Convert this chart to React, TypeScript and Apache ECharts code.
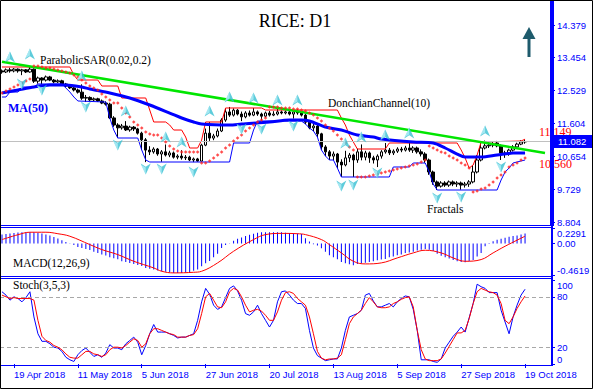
import React, { useEffect, useRef } from 'react';
import * as echarts from 'echarts';

// ---------- categories (trading days) ----------
const monthDays: [string, number[]][] = [
  ['Apr', [16, 17, 18, 19, 20, 23, 24, 25, 26, 27, 30]],
  ['May', [1, 2, 3, 4, 7, 8, 9, 10, 11, 14, 15, 16, 17, 18, 21, 22, 23, 24, 25, 29, 30, 31]],
  ['Jun', [1, 4, 5, 6, 7, 8, 11, 12, 13, 14, 15, 18, 19, 20, 21, 22, 25, 26, 27, 28, 29]],
  ['Jul', [2, 3, 5, 6, 9, 10, 11, 12, 13, 16, 17, 18, 19, 20, 23, 24, 25, 26, 27, 30, 31]],
  ['Aug', [1, 2, 3, 6, 7, 8, 9, 10, 13, 14, 15, 16, 17, 20, 21, 22, 23, 24, 27, 28, 29, 30, 31]],
  ['Sep', [4, 5, 6, 7, 10, 11, 12, 13, 14, 17, 18, 19, 20, 21, 24, 25, 26, 27, 28]],
  ['Oct', [1, 2, 3, 4, 5, 8, 9, 10, 11, 12, 15, 16, 17, 18, 19]],
];
const padCategories = ['p1', 'p2', 'p3', 'p4', 'p5', 'p6'];
const tickLabels = ['19 Apr 2018', '11 May 2018', '5 Jun 2018', '27 Jun 2018', '20 Jul 2018', '13 Aug 2018', '5 Sep 2018', '27 Sep 2018', '19 Oct 2018'];

// ---------- price axis ----------
const priceTicks = [8.804, 9.729, 10.654, 11.604, 12.529, 13.454, 14.379];
const macdTicks = [-0.4619, 0, 0.2291];
const stochTicks = [0, 20, 80, 100];

// ---------- OHLC: [open, close, low, high] ----------
const ohlc: number[][] = [
  [13.08, 13.05, 13.0, 13.12], [13.05, 13.11, 13.02, 13.15], [13.11, 13.08, 13.03, 13.17], [13.08, 13.13, 13.04, 13.16],
  [13.13, 13.08, 13.03, 13.15], [13.08, 13.11, 12.96, 13.14], [13.11, 13.05, 13.02, 13.13], [13.05, 13.13, 13.03, 13.19],
  [13.13, 12.79, 12.74, 13.15], [12.79, 12.88, 12.72, 12.92], [12.88, 12.82, 12.7, 12.9], [12.82, 12.91, 12.78, 12.95],
  [12.91, 12.82, 12.79, 12.94], [12.82, 12.77, 12.73, 12.85], [12.77, 12.8, 12.74, 12.84], [12.8, 12.71, 12.69, 12.83],
  [12.71, 12.65, 12.62, 12.74], [12.65, 12.6, 12.57, 12.69], [12.6, 12.54, 12.5, 12.64], [12.54, 12.48, 12.44, 12.58],
  [12.48, 12.31, 12.26, 12.7], [12.31, 12.33, 12.2, 12.4], [12.33, 12.26, 12.23, 12.36], [12.26, 12.29, 12.22, 12.33],
  [12.29, 12.23, 12.2, 12.32], [12.23, 12.17, 12.14, 12.27], [12.17, 12.14, 12.1, 12.22], [12.14, 11.75, 11.72, 12.18],
  [11.75, 11.55, 11.5, 11.8], [11.55, 11.47, 11.18, 11.6], [11.47, 11.52, 11.42, 11.58], [11.52, 11.41, 11.38, 11.66],
  [11.41, 11.49, 11.36, 11.53], [11.49, 11.44, 11.38, 11.52], [11.44, 11.32, 11.28, 11.47], [11.32, 11.13, 10.84, 11.36],
  [11.13, 10.84, 10.5, 11.18], [10.84, 10.79, 10.7, 10.95], [10.79, 10.87, 10.74, 10.92], [10.87, 10.73, 10.68, 10.9],
  [10.73, 10.79, 10.51, 10.84], [10.79, 10.7, 10.66, 11.0], [10.7, 10.76, 10.64, 10.82], [10.76, 10.64, 10.6, 10.8],
  [10.64, 10.67, 10.58, 10.72], [10.67, 10.62, 10.57, 10.84], [10.62, 10.64, 10.56, 10.7], [10.64, 10.56, 10.53, 10.68],
  [10.56, 10.59, 10.5, 10.63], [10.59, 10.53, 10.51, 10.62], [10.53, 10.98, 10.52, 11.02], [10.98, 11.32, 10.95, 11.45],
  [11.32, 11.18, 11.1, 11.63], [11.18, 11.24, 11.12, 11.3], [11.24, 11.38, 11.2, 11.45], [11.38, 11.69, 11.35, 11.74],
  [11.69, 11.92, 11.64, 12.03], [11.92, 11.83, 11.78, 12.06], [11.83, 11.97, 11.79, 12.02], [11.97, 11.86, 11.82, 12.0],
  [11.86, 11.78, 11.66, 11.93], [11.78, 11.89, 11.74, 11.94], [11.89, 11.83, 11.79, 11.96], [11.83, 11.92, 11.8, 12.03],
  [11.92, 11.86, 11.81, 11.96], [11.86, 11.8, 11.68, 11.9], [11.8, 11.89, 11.76, 11.93], [11.89, 11.83, 11.79, 11.95],
  [11.83, 11.86, 11.8, 11.94], [11.86, 11.92, 11.82, 12.02], [11.92, 11.89, 11.85, 11.96], [11.89, 11.92, 11.85, 11.96],
  [11.92, 11.86, 11.82, 11.95], [11.86, 11.92, 11.73, 11.96], [11.92, 11.89, 11.84, 12.0], [11.89, 11.83, 11.79, 11.93],
  [11.83, 11.63, 11.58, 11.86], [11.63, 11.47, 11.43, 11.68], [11.47, 11.52, 11.38, 11.58], [11.52, 11.3, 11.21, 11.55],
  [11.3, 10.93, 10.85, 11.33], [10.93, 10.79, 10.67, 10.98], [10.79, 10.67, 10.56, 10.84], [10.67, 10.73, 10.56, 10.8],
  [10.73, 10.5, 10.33, 10.76], [10.5, 10.42, 10.08, 10.58], [10.42, 10.62, 10.38, 10.82], [10.62, 10.7, 10.5, 10.76],
  [10.7, 10.56, 10.08, 10.74], [10.56, 10.79, 10.48, 10.88], [10.79, 10.64, 10.55, 11.0], [10.64, 10.76, 10.55, 10.82],
  [10.76, 10.62, 10.48, 10.8], [10.62, 10.56, 10.46, 10.68], [10.56, 10.67, 10.36, 10.72], [10.67, 10.79, 10.6, 10.84],
  [10.79, 10.84, 10.74, 11.04], [10.84, 10.76, 10.7, 10.9], [10.76, 10.81, 10.7, 10.86], [10.81, 10.87, 10.76, 10.92],
  [10.87, 10.84, 10.78, 10.93], [10.84, 10.9, 10.8, 10.96], [10.9, 10.84, 10.79, 11.08], [10.84, 10.9, 10.76, 10.95],
  [10.9, 10.79, 10.74, 10.94], [10.79, 10.73, 10.66, 10.86], [10.73, 10.56, 10.48, 10.78], [10.56, 10.22, 10.14, 10.6],
  [10.22, 9.94, 9.86, 10.26], [9.94, 9.82, 9.71, 9.98], [9.82, 9.91, 9.78, 9.96], [9.91, 9.85, 9.8, 9.96],
  [9.85, 9.94, 9.8, 9.98], [9.94, 9.88, 9.82, 9.98], [9.88, 9.91, 9.8, 9.96], [9.91, 9.85, 9.72, 9.95],
  [9.85, 9.88, 9.78, 9.94], [9.88, 9.94, 9.8, 9.99], [9.94, 10.22, 9.9, 10.4], [10.22, 10.56, 10.18, 10.7],
  [10.56, 10.9, 10.52, 11.08], [10.9, 10.96, 10.86, 11.11], [10.96, 10.98, 10.9, 11.06], [10.98, 11.01, 10.92, 11.08],
  [11.04, 10.96, 10.92, 11.1], [10.96, 10.76, 10.56, 11.0], [10.76, 10.73, 10.62, 10.82], [10.73, 10.84, 10.68, 10.88],
  [10.84, 10.93, 10.8, 10.98], [10.93, 11.01, 10.88, 11.05], [11.01, 11.07, 10.98, 11.12], [11.07, 11.082, 11.02, 11.14],
];

// ---------- indicators ----------
const ma50: number[][] = [
  [0, 12.455], [4, 12.54], [8, 12.625], [12, 12.681], [16, 12.681], [20, 12.625], [22, 12.568], [27, 12.455],
  [32, 12.314], [37, 12.116], [42, 11.889], [45, 11.748], [48, 11.635], [50, 11.578], [57, 11.55], [60, 11.578],
  [67, 11.635], [72, 11.691], [75, 11.691], [77, 11.663], [81, 11.493], [85, 11.408], [89, 11.267], [93, 11.21],
  [95, 11.153], [103, 11.069], [108, 11.041], [111, 10.899], [114, 10.729], [116, 10.645], [120, 10.645],
  [124, 10.701], [128, 10.758], [131, 10.758],
];
const donchianUpper: number[][] = [
  [0, 13.191], [17, 13.191], [18, 12.964], [19, 12.823], [24, 12.823], [25, 12.653], [29, 12.653], [30, 12.314],
  [36, 12.314], [37, 11.974], [38, 11.635], [41, 11.635], [42, 11.55], [43, 11.408], [45, 11.408], [46, 11.21],
  [47, 10.899], [49, 10.899], [50, 11.125], [51, 11.635], [55, 11.635], [56, 12.031], [65, 12.031], [66, 11.974],
  [84, 11.974], [85, 11.748], [86, 11.55], [87, 11.267], [88, 11.069], [89, 10.871], [96, 10.871], [97, 11.041],
  [114, 11.041], [115, 10.843], [116, 10.616], [117, 10.333], [118, 10.418], [119, 10.701], [120, 11.069],
  [130, 11.097], [131, 11.149],
];
const donchianLower: number[][] = [
  [0, 12.342], [1, 12.342], [2, 12.483], [4, 12.483], [5, 12.625], [8, 12.625], [9, 12.71], [15, 12.71],
  [16, 12.596], [17, 12.483], [18, 12.342], [19, 12.229], [26, 12.2], [27, 11.748], [28, 11.408], [29, 11.182],
  [34, 11.182], [35, 10.843], [36, 10.56], [37, 10.503], [57, 10.503], [58, 11.041], [62, 11.041], [63, 11.408],
  [64, 11.663], [75, 11.663], [76, 11.578], [77, 11.465], [78, 11.38], [79, 11.21], [80, 10.843], [81, 10.673],
  [82, 10.56], [83, 10.56], [84, 10.333], [85, 10.079], [97, 10.079], [98, 10.362], [102, 10.362], [103, 10.475],
  [106, 10.475], [107, 10.22], [108, 9.881], [109, 9.711], [124, 9.711], [125, 9.994], [126, 10.22], [127, 10.333],
  [128, 10.475], [131, 10.56],
];
const trendLine: number[][] = [[0, 13.34], [136, 10.76]];
const sar: number[] = [
  12.455, 12.512, 12.568, 12.625, 12.681, 12.738, 12.794, 12.851,
  13.219, 13.219, 13.191, 13.162, 13.162, 13.134, 13.106, 13.077, 13.049, 13.021,
  12.964, 12.908, 12.823, 12.738, 12.653, 12.596, 12.54, 12.427, 12.342, 12.257,
  12.172, 12.172, 12.031, 11.889, 11.776, 11.635, 11.55, 11.465, 11.352, 11.295,
  11.267, 11.267, 11.182, 11.069, 10.956, 10.871, 10.814, 10.786, 10.786, 10.786, 10.786, 10.786,
  10.475, 10.475, 10.532, 10.616, 10.701, 10.786, 10.899, 10.984, 11.097, 11.182, 11.267, 11.38, 11.465, 11.55, 11.635, 11.691, 11.748,
  12.059, 12.059, 12.059, 12.031, 12.031, 12.031, 12.002, 12.002, 11.974, 11.946, 11.889, 11.833, 11.748, 11.663, 11.55, 11.465, 11.38, 11.267, 11.153, 11.041, 10.928, 10.843,
  10.079, 10.079, 10.079, 10.107, 10.136, 10.164, 10.192, 10.22, 10.249, 10.277, 10.305, 10.333, 10.362, 10.39, 10.418, 10.447, 10.503, 10.56,
  10.956, 10.899, 10.843, 10.786, 10.758, 10.673, 10.616, 10.56, 10.475, 10.418, 10.333,
  9.654, 9.683, 9.739, 9.768, 9.853, 9.938, 10.051, 10.136, 10.22, 10.362, 10.418, 10.475, 10.56, 10.616,
];
const fractalsUp: number[][] = [
  [2, 13.474], [7, 13.558], [20, 12.936], [31, 11.946], [41, 11.21], [45, 11.069], [52, 11.946], [57, 12.342],
  [63, 12.314], [69, 12.257], [74, 12.257], [86, 11.041], [90, 11.21], [96, 11.267], [102, 11.324], [121, 11.38],
];
const fractalsDown: number[][] = [
  [5, 12.71], [10, 12.54], [21, 12.059], [29, 10.984], [36, 10.305], [40, 10.305], [48, 10.22], [60, 11.437],
  [65, 11.437], [73, 11.522], [85, 9.824], [88, 9.853], [94, 10.192], [109, 9.485], [115, 9.513], [125, 10.362],
];
const macdHist: number[] = [
  0.132, 0.14, 0.15, 0.157, 0.162, 0.167, 0.167, 0.167, 0.165, 0.16,
  0.15, 0.135, 0.118, 0.098, 0.075, 0.05, 0.025, 0.005, -0.02, -0.05,
  -0.064, -0.078, -0.095, -0.12, -0.137, -0.162, -0.175, -0.2, -0.215, -0.23,
  -0.26, -0.27, -0.285, -0.3, -0.315, -0.33, -0.36, -0.37, -0.382, -0.395,
  -0.405, -0.415, -0.422, -0.431, -0.431, -0.431, -0.425, -0.42, -0.4, -0.38,
  -0.333, -0.29, -0.255, -0.2, -0.15, -0.064, -0.02, 0.005, 0.04, 0.07,
  0.09, 0.11, 0.13, 0.145, 0.16, 0.167, 0.167, 0.167, 0.167, 0.167,
  0.165, 0.16, 0.157, 0.152, 0.147, 0.14, 0.08, 0.03, -0.01, -0.03,
  -0.07, -0.12, -0.17, -0.2, -0.23, -0.27, -0.29, -0.305, -0.32, -0.3,
  -0.29, -0.28, -0.27, -0.26, -0.245, -0.235, -0.225, -0.2, -0.19, -0.17,
  -0.16, -0.14, -0.13, -0.12, -0.1, -0.09, -0.08, -0.09, -0.11, -0.15,
  -0.18, -0.2, -0.22, -0.24, -0.26, -0.27, -0.275, -0.26, -0.24, -0.19,
  -0.14, -0.04, 0.01, 0.035, 0.055, 0.07, 0.085, 0.1, 0.11, 0.12,
  0.135, 0.15,
];
const macdSignal: number[][] = [
  [0, 0.059], [4, 0.13], [7, 0.167], [11, 0.167], [14, 0.145], [17, 0.108], [22, -0.015], [25, -0.088],
  [29, -0.162], [33, -0.26], [38, -0.358], [40, -0.407], [43, -0.431], [48, -0.422], [50, -0.407], [54, -0.284],
  [58, -0.113], [63, 0.059], [66, 0.132], [70, 0.15], [74, 0.145], [76, 0.132], [80, 0.059], [82, -0.015],
  [85, -0.137], [88, -0.26], [91, -0.299], [95, -0.284], [99, -0.211], [103, -0.137], [106, -0.098], [110, -0.137],
  [113, -0.211], [116, -0.26], [120, -0.235], [123, -0.137], [126, -0.039], [131, 0.108],
];
const stochK: number[] = [
  86, 82, 76, 80, 78, 74, 79, 86, 56, 36,
  27, 27, 24, 20, 19, 15, 8, 5, 3, 11,
  16, 19, 14, 9, 11, 8, 13, 23, 19, 19,
  17, 24, 28, 32, 26, 11, 22, 36, 47, 38,
  38, 38, 36, 34, 31, 32, 32, 34, 36, 52,
  74, 90, 83, 70, 65, 68, 79, 90, 93, 87,
  76, 60, 58, 62, 70, 60, 52, 44, 52, 74,
  86, 87, 82, 76, 72, 72, 66, 40, 19, 10,
  7, 4, 5, 6, 6, 19, 40, 56, 58, 60,
  64, 82, 84, 75, 68, 68, 70, 72, 68, 74,
  78, 81, 80, 65, 40, 5, 5, 5, 3, 2,
  6, 19, 26, 33, 38, 44, 38, 55, 72, 95,
  92, 90, 85, 85, 85, 64, 50, 36, 56, 70,
  82, 89,
];
const stochD: number[] = [
  82, 80, 78, 79, 78, 78, 78, 78, 76, 52,
  33, 28, 26, 22, 20, 17, 12, 8, 7, 7,
  11, 15, 15, 12, 11, 9, 11, 17, 20, 20,
  19, 22, 26, 30, 28, 20, 24, 36, 42, 42,
  40, 38, 36, 35, 32, 32, 32, 34, 35, 42,
  60, 80, 84, 76, 68, 67, 74, 86, 90, 88,
  80, 70, 62, 64, 65, 63, 58, 52, 52, 62,
  76, 85, 86, 84, 78, 74, 70, 56, 36, 15,
  7, 5, 6, 6, 7, 11, 29, 48, 56, 60,
  64, 72, 79, 74, 68, 67, 67, 68, 72, 74,
  77, 79, 80, 68, 40, 17, 6, 4, 4, 4,
  6, 13, 21, 29, 37, 37, 40, 54, 72, 86,
  90, 88, 86, 85, 82, 72, 52, 48, 56, 66,
  74, 81,
];

const BLUE = '#0000ff';
const AXIS_FONT = 'Liberation Sans';
const SERIF = 'Liberation Serif';

const categories: string[] = [];
monthDays.forEach(([m, days]) => days.forEach((d) => categories.push(`${d} ${m} 2018`)));
padCategories.forEach((p) => categories.push(p));

const upFull = 'path://M5,0 L10,10 L5,7 L0,10 Z';
const upHalf = 'path://M5,0 L5,7 L0,10 Z';
const dnFull = 'path://M0,0 L5,3 L10,0 L5,10 Z';
const dnHalf = 'path://M0,0 L5,3 L5,10 Z';

function buildOption(): any {
  const grids = [
    { left: -1, width: 552, top: 1, height: 224 },
    { left: -1, width: 552, top: 228, height: 47 },
    { left: -1, width: 552, top: 280, height: 84 },
  ];
  const isTick = (_i: number, v: string) => tickLabels.indexOf(v) >= 0;
  const xAxes = grids.map((_, gi) => ({
    type: 'category',
    gridIndex: gi,
    data: categories,
    boundaryGap: true,
    axisLine: { show: false },
    axisTick: gi === 2 ? { show: true, interval: isTick, alignWithLabel: true, length: 4, lineStyle: { color: BLUE } } : { show: false },
    axisLabel: gi === 2
      ? { show: true, interval: isTick, align: 'left', margin: 5, color: BLUE, fontFamily: AXIS_FONT, fontSize: 9.5 }
      : { show: false },
    splitLine: { show: false },
  }));
  const yLabel = { color: BLUE, fontFamily: AXIS_FONT, fontSize: 9.5, margin: 6 };
  const yAxes = [
    {
      type: 'value', gridIndex: 0, position: 'right', min: 8.721, max: 15.058,
      splitLine: { show: false }, axisLine: { show: false },
      axisTick: { show: true, length: 4, customValues: priceTicks, lineStyle: { color: BLUE } },
      axisLabel: { ...yLabel, customValues: priceTicks, formatter: (v: number) => v.toFixed(3) },
    },
    {
      type: 'value', gridIndex: 1, position: 'right', min: macdTicks[0], max: macdTicks[2],
      splitLine: { show: false }, axisLine: { show: false },
      axisTick: { show: true, length: 4, customValues: macdTicks, lineStyle: { color: BLUE } },
      axisLabel: {
        ...yLabel, customValues: macdTicks,
        verticalAlignMinLabel: 'bottom', verticalAlignMaxLabel: 'top',
        formatter: (v: number) => (v === 0 ? '0.00' : v.toFixed(4)),
      },
    },
    {
      type: 'value', gridIndex: 2, position: 'right', min: 0, max: 100,
      splitLine: { show: false }, axisLine: { show: false },
      axisTick: { show: true, length: 4, customValues: stochTicks, lineStyle: { color: BLUE } },
      axisLabel: {
        ...yLabel, customValues: stochTicks,
        verticalAlignMinLabel: 'bottom', verticalAlignMaxLabel: 'top',
        formatter: (v: number) => String(v),
      },
    },
  ];

  const lastClose = ohlc[ohlc.length - 1][1];
  const upperLast = donchianUpper[donchianUpper.length - 1][1];
  const lowerLast = donchianLower[donchianLower.length - 1][1];

  const series: any[] = [
    {
      type: 'candlestick', xAxisIndex: 0, yAxisIndex: 0, data: ohlc, barWidth: 3, silent: true, z: 3,
      itemStyle: { color: '#ffffff', color0: '#000000', borderColor: '#000000', borderColor0: '#000000', borderWidth: 1 },
      markLine: {
        silent: true, symbol: 'none', animation: false,
        lineStyle: { color: '#c0c0c0', width: 1, type: 'solid' },
        label: {
          show: true, position: 'end', distance: 2, formatter: lastClose.toFixed(3),
          color: '#ffffff', backgroundColor: BLUE, padding: [2, 10, 1, 5], fontFamily: AXIS_FONT, fontSize: 9.5,
        },
        data: [{ yAxis: lastClose }],
      },
    },
    {
      type: 'line', xAxisIndex: 0, yAxisIndex: 0, data: donchianUpper, symbol: 'none', silent: true, z: 4,
      lineStyle: { color: '#ff0000', width: 1 },
      endLabel: {
        show: true, formatter: () => upperLast.toFixed(3), color: '#ff0000', fontFamily: SERIF, fontSize: 12,
        distance: 14, offset: [0, -7],
      },
    },
    {
      type: 'line', xAxisIndex: 0, yAxisIndex: 0, data: donchianLower, symbol: 'none', silent: true, z: 4,
      lineStyle: { color: BLUE, width: 1 },
      endLabel: {
        show: true, formatter: () => lowerLast.toFixed(3), color: '#ff0000', fontFamily: SERIF, fontSize: 12,
        distance: 14, offset: [0, 4],
      },
    },
    {
      type: 'line', xAxisIndex: 0, yAxisIndex: 0, data: ma50, symbol: 'none', silent: true, z: 5, smooth: 0.3,
      lineStyle: { color: BLUE, width: 3 },
    },
    {
      type: 'line', xAxisIndex: 0, yAxisIndex: 0, data: trendLine, symbol: 'none', silent: true, z: 6,
      lineStyle: { color: '#00e600', width: 2.5 },
    },
    {
      type: 'scatter', xAxisIndex: 0, yAxisIndex: 0, data: sar.map((v, i) => [i, v]), symbol: 'diamond', symbolSize: 3.5,
      silent: true, z: 7, itemStyle: { color: '#ff2020' },
    },
    {
      type: 'scatter', xAxisIndex: 0, yAxisIndex: 0, data: fractalsUp, symbol: upFull, symbolSize: [10, 11],
      silent: true, z: 8, itemStyle: { color: '#36bfd2' },
    },
    {
      type: 'scatter', xAxisIndex: 0, yAxisIndex: 0, data: fractalsUp, symbol: upHalf, symbolSize: [5, 10],
      symbolOffset: [-2.5, -0.5], silent: true, z: 9, itemStyle: { color: '#b4eef6' },
    },
    {
      type: 'scatter', xAxisIndex: 0, yAxisIndex: 0, data: fractalsDown, symbol: dnFull, symbolSize: [10, 11],
      silent: true, z: 8, itemStyle: { color: '#36bfd2' },
    },
    {
      type: 'scatter', xAxisIndex: 0, yAxisIndex: 0, data: fractalsDown, symbol: dnHalf, symbolSize: [5, 10],
      symbolOffset: [-2.5, 0.5], silent: true, z: 9, itemStyle: { color: '#b4eef6' },
    },
    {
      type: 'bar', xAxisIndex: 1, yAxisIndex: 1, data: macdHist, barWidth: 1, silent: true,
      itemStyle: { color: BLUE },
    },
    {
      type: 'line', xAxisIndex: 1, yAxisIndex: 1, data: macdSignal, symbol: 'none', silent: true, smooth: 0.4,
      lineStyle: { color: '#ff0000', width: 1 }, z: 4,
    },
    {
      type: 'line', xAxisIndex: 2, yAxisIndex: 2, data: stochK, symbol: 'none', silent: true, z: 4,
      lineStyle: { color: BLUE, width: 1 },
      markLine: {
        silent: true, symbol: 'none', animation: false, label: { show: false },
        lineStyle: { color: '#a8a8a8', width: 1, type: [4, 3] },
        data: [{ yAxis: 20 }, { yAxis: 80 }],
      },
    },
    {
      type: 'line', xAxisIndex: 2, yAxisIndex: 2, data: stochD, symbol: 'none', silent: true, z: 5,
      lineStyle: { color: '#ff0000', width: 1 },
    },
  ];

  const txt = (text: string, x: number, y: number, font: string, fill = '#000', align = 'left') => ({
    type: 'text', silent: true, z: 50,
    style: { text, x, y, font, fill, textAlign: align, textVerticalAlign: 'middle', align, verticalAlign: 'middle' },
  });
  const hline = (y: number) => ({
    type: 'line', silent: true, z: 90,
    shape: { x1: 0, y1: y, x2: 552, y2: y },
    style: { stroke: BLUE, lineWidth: 1 },
  });

  const graphic = [
    txt('RICE: D1', 295, 21, `18px "${SERIF}"`, '#000', 'center'),
    txt('ParabolicSAR(0.02,0.2)', 40, 60, `11.5px "${SERIF}"`),
    txt('MA(50)', 8, 108, `bold 12px "${SERIF}"`, BLUE),
    txt('DonchianChannel(10)', 328, 103, `11.5px "${SERIF}"`),
    txt('Fractals', 427, 209, `11.5px "${SERIF}"`),
    txt('MACD(12,26,9)', 13, 263, `11.5px "${SERIF}"`),
    txt('Stoch(3,5,3)', 13, 285, `11.5px "${SERIF}"`),
    {
      type: 'polygon', silent: true, z: 50,
      shape: { points: [[529, 27], [535.5, 39], [522.5, 39]] },
      style: { fill: '#1e5b6c' },
    },
    { type: 'rect', silent: true, z: 50, shape: { x: 527.5, y: 38, width: 3, height: 19 }, style: { fill: '#1e5b6c' } },
    hline(225.5), hline(227.5), hline(276.5), hline(278.5), hline(365.5),
    { type: 'rect', silent: true, z: 100, shape: { x: 550, y: 0, width: 4, height: 226 }, style: { fill: BLUE } },
    { type: 'rect', silent: true, z: 100, shape: { x: 551, y: 226, width: 2, height: 140 }, style: { fill: BLUE } },
    {
      type: 'rect', silent: true, z: 110,
      shape: { x: 0.5, y: 0.5, width: 592, height: 388 },
      style: { fill: 'none', stroke: '#000', lineWidth: 1 },
    },
  ];

  return {
    animation: false,
    backgroundColor: '#ffffff',
    textStyle: { fontFamily: AXIS_FONT },
    grid: grids,
    xAxis: xAxes,
    yAxis: yAxes,
    series,
    graphic,
  };
}

export default function App() {
  const ref = useRef<HTMLDivElement>(null);
  useEffect(() => {
    if (!ref.current) return;
    const chart = echarts.init(ref.current, undefined, { renderer: 'svg' });
    chart.setOption(buildOption());
    return () => chart.dispose();
  }, []);
  return (
    <div
      ref={ref}
      style={{ position: 'fixed', left: 0, top: 0, width: 593, height: 389, background: '#fff' }}
    />
  );
}
